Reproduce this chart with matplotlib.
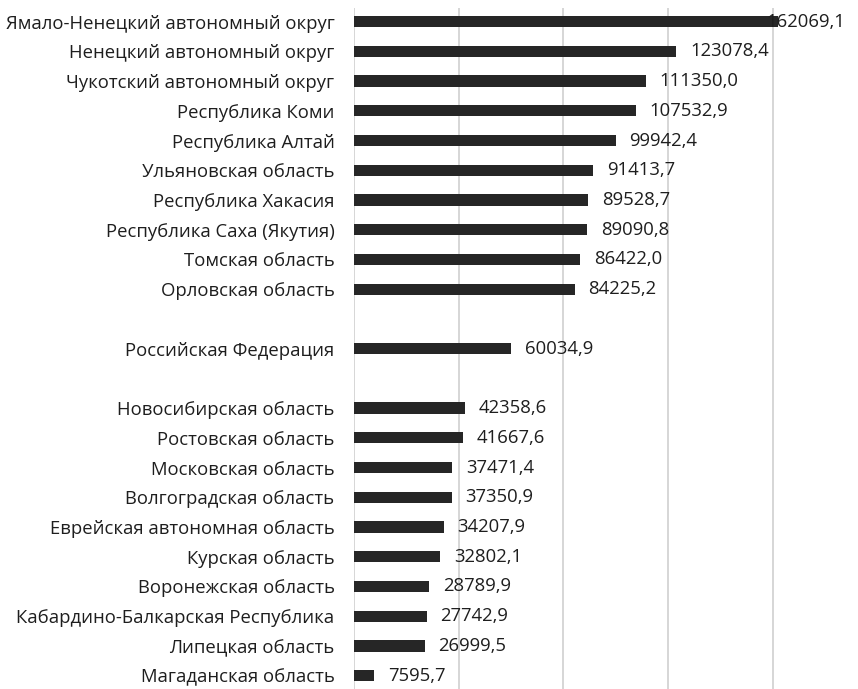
import matplotlib.pyplot as plt

regions = [
    "Ямало-Ненецкий автономный округ",
    "Ненецкий автономный округ",
    "Чукотский автономный округ",
    "Республика Коми",
    "Республика Алтай",
    "Ульяновская область",
    "Республика Хакасия",
    "Республика Саха (Якутия)",
    "Томская область",
    "Орловская область",
    "Российская Федерация",
    "Новосибирская область",
    "Ростовская область",
    "Московская область",
    "Волгоградская область",
    "Еврейская автономная область",
    "Курская область",
    "Воронежская область",
    "Кабардино-Балкарская Республика",
    "Липецкая область",
    "Магаданская область",
]
values = [162069.1, 123078.4, 111350.0, 107532.9, 99942.4, 91413.7, 89528.7,
          89090.8, 86422.0, 84225.2, 60034.9, 42358.6, 41667.6, 37471.4,
          37350.9, 34207.9, 32802.1, 28789.9, 27742.9, 26999.5, 7595.7]
# row positions: top ten, empty row, federation, empty row, bottom ten
rows = list(range(10)) + [11] + list(range(13, 23))

plt.rcParams['font.family'] = ['Open Sans', 'DejaVu Sans']
text_color = "#1e1e1e"
xmax = 192500

fig = plt.figure(figsize=(8.58, 6.89), dpi=100)
ax = fig.add_axes([354 / 858, 0, 1 - 354 / 858, 1 - 8 / 689])

ax.barh(rows, values, height=0.38, color="#262626", zorder=2)
for y, v in zip(rows, values):
    label = f"{v:.1f}".replace(".", ",")
    if v > 150000:
        # too long for the plot area: pull the label back inside
        ax.text(xmax * 0.974, y, label, va="center", ha="right",
                fontsize=13.3, color=text_color, zorder=3)
    else:
        ax.annotate(label, (v, y), xytext=(10, 0), textcoords="offset points",
                    va="center", ha="left", fontsize=13.3, color=text_color,
                    zorder=3)

ax.set_xlim(0, xmax)
ax.set_ylim(22.45, -0.46)
ax.set_xticks([0, 40000, 80000, 120000, 160000])
ax.xaxis.grid(True, color="#d0d0d0", linewidth=1.2, zorder=0)
ax.tick_params(axis="x", length=0, labelbottom=False)
ax.set_yticks(rows)
ax.set_yticklabels(regions, fontsize=13.3, color=text_color)
ax.tick_params(axis="y", length=0, pad=14)
for s in ax.spines.values():
    s.set_visible(False)

fig.savefig("out.png", dpi=100)
